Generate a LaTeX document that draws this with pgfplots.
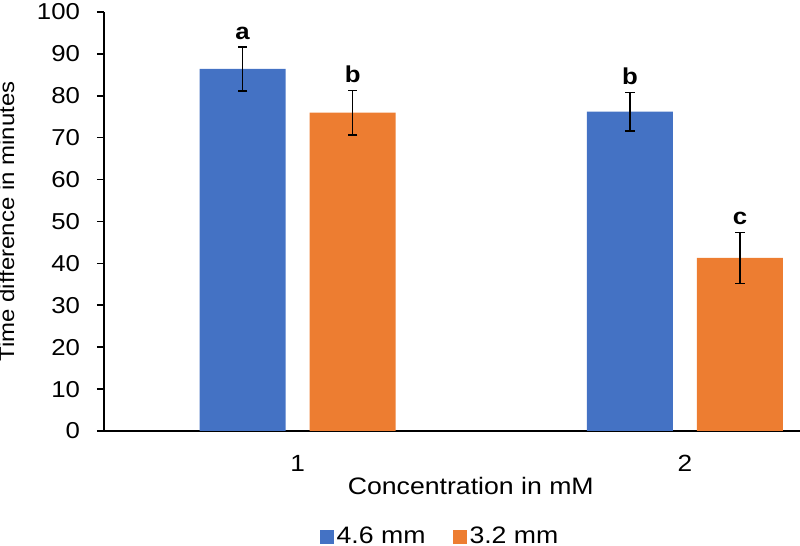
\documentclass[border=0pt]{standalone}
\usepackage{pgfplots}
\pgfplotsset{compat=1.18}
\usepackage{fontspec}
\setmainfont{Liberation Sans}[FakeStretch=1.12]
\definecolor{cblue}{HTML}{4472C4}
\definecolor{corange}{HTML}{ED7D31}
\begin{document}
\begin{tikzpicture}
\begin{axis}[
  scale only axis,
  width=348pt, height=209.5pt,
  at={(52pt,57.5pt)}, anchor=south west,
  xmin=0.5, xmax=2.297,
  ymin=0, ymax=100,
  axis x line*=bottom, axis y line*=left,
  axis line style={line width=0.8pt, black},
  xtick={1,2}, xticklabels={1,2},
  xtick style={draw=none},
  ytick={0,10,...,100},
  tick align=outside,
  major tick length=3.5pt,
  ytick style={line width=0.8pt, black},
  /pgf/number format/assume math mode=true,
  yticklabel style={font=\fontsize{11.5}{13}\selectfont, xshift=-5pt},
  xticklabel style={font=\fontsize{11.7}{14}\selectfont, yshift=-5pt},
  xlabel={Concentration in mM},
  ylabel={Time difference in minutes},
  xlabel style={font=\fontsize{11.9}{14}\selectfont, at={(axis description cs:0.527,-0.131)}, anchor=center},
  ylabel style={font=\fontsize{10.7}{12}\selectfont, at={(axis description cs:-0.14,0.5)}, anchor=center},
  legend style={draw=none, at={(axis description cs:0.4835,-0.252)}, anchor=center,
    legend columns=2, font=\fontsize{11.9}{14}\selectfont,
    /tikz/every even column/.append style={column sep=12pt},
    nodes={inner sep=1.5pt}},
  legend image code/.code={\fill[#1] (0pt,-3.5pt) rectangle (7pt,3.5pt);},
  clip=false,
]
\addplot[ybar, bar width=43pt, bar shift=0pt, fill=cblue, draw=none,
  error bars/.cd, y dir=both, y explicit,
  error bar style={line width=0.75pt, draw=black},
  error mark options={line width=0.75pt, mark size=2.3pt, draw=black, rotate=90}]
  coordinates {(0.858,86.4) +- (0,5.2) (1.858,76.2) +- (0,4.6)};
\addlegendentry{4.6 mm}
\addplot[ybar, bar width=43pt, bar shift=0pt, fill=corange, draw=none,
  error bars/.cd, y dir=both, y explicit,
  error bar style={line width=0.75pt, draw=black},
  error mark options={line width=0.75pt, mark size=2.3pt, draw=black, rotate=90}]
  coordinates {(1.142,76.0) +- (0,5.3) (2.142,41.3) +- (0,6.1)};
\addlegendentry{3.2 mm}
\addplot[draw=none, mark=none, forget plot,
  point meta=explicit symbolic, nodes near coords,
  nodes near coords style={font=\bfseries\fontsize{11.5}{13}\selectfont, anchor=south, inner sep=0pt, yshift=3.5pt}]
  coordinates {(0.858,91.6) [a] (1.142,81.3) [b] (1.858,80.8) [b] (2.142,47.4) [c]};
\end{axis}
\pgfresetboundingbox
\useasboundingbox (0,0) rectangle (400pt,273pt);
\end{tikzpicture}
\end{document}
